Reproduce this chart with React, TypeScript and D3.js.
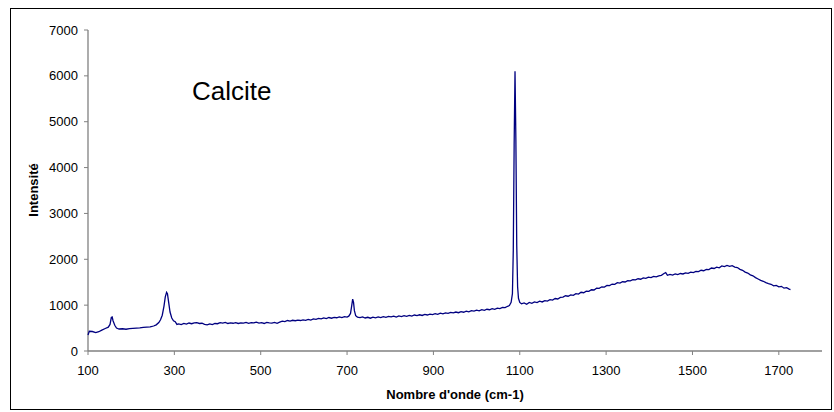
import * as d3 from "d3";

// Spectre Raman de la calcite : [nombre d'onde, intensité]
const spectrum: [number, number][] = [
  [100, 350], [103, 430], [110, 425], [118, 400], [125, 420], [132, 455], [140, 490],
  [147, 520], [151, 580], [154, 730], [156, 740], [158, 660], [162, 560], [166, 500],
  [172, 480], [180, 485], [188, 475], [196, 490], [204, 495], [212, 500], [220, 505],
  [228, 515], [236, 520], [244, 525], [252, 545], [258, 570], [264, 620], [268, 680],
  [272, 780], [276, 980], [279, 1180], [282, 1280], [284, 1250], [287, 1050], [290, 850],
  [294, 720], [298, 660], [302, 640], [306, 580], [310, 590], [316, 575], [322, 600],
  [328, 585], [334, 610], [340, 595], [346, 615], [352, 620], [358, 600], [364, 605],
  [370, 580], [376, 570], [382, 590], [388, 575], [394, 600], [400, 595], [406, 620],
  [412, 610], [418, 625], [424, 600], [430, 615], [436, 605], [442, 620], [448, 600],
  [454, 615], [460, 610], [466, 625], [472, 605], [478, 620], [484, 615], [490, 630],
  [496, 610], [502, 620], [508, 600], [514, 625], [520, 615], [526, 610], [532, 625],
  [538, 605], [544, 630], [550, 650], [556, 640], [562, 665], [568, 650], [574, 670],
  [580, 660], [586, 675], [592, 665], [598, 680], [604, 670], [610, 690], [616, 675],
  [622, 700], [628, 690], [634, 710], [640, 700], [646, 720], [652, 705], [658, 730],
  [664, 715], [670, 735], [676, 725], [682, 745], [688, 730], [694, 750], [700, 740],
  [704, 760], [708, 820], [711, 1000], [713, 1130], [715, 1060], [717, 880], [720, 770],
  [724, 740], [730, 730], [736, 745], [742, 720], [748, 735], [754, 715], [760, 740],
  [766, 725], [772, 745], [778, 730], [784, 750], [790, 735], [796, 755], [802, 745],
  [808, 760], [814, 740], [820, 765], [826, 750], [832, 770], [838, 755], [844, 775],
  [850, 760], [856, 785], [862, 770], [868, 790], [874, 775], [880, 800], [886, 785],
  [892, 805], [898, 795], [904, 815], [910, 800], [916, 825], [922, 810], [928, 830],
  [934, 820], [940, 840], [946, 830], [952, 850], [958, 835], [964, 860], [970, 845],
  [976, 870], [982, 855], [988, 880], [994, 870], [1000, 890], [1006, 875], [1012, 900],
  [1018, 885], [1024, 910], [1030, 900], [1036, 925], [1042, 910], [1048, 935],
  [1054, 925], [1060, 950], [1066, 945], [1072, 975], [1076, 990], [1080, 1060],
  [1083, 1250], [1085, 2200], [1087, 4500], [1089, 6100], [1091, 4600], [1093, 2300],
  [1095, 1400], [1097, 1150], [1100, 1060], [1104, 1030], [1110, 1050], [1116, 1020],
  [1122, 1060], [1128, 1040], [1134, 1070], [1140, 1055], [1146, 1085], [1152, 1070],
  [1158, 1100], [1164, 1090], [1170, 1120], [1176, 1110], [1182, 1145], [1188, 1135],
  [1194, 1170], [1200, 1175], [1206, 1205], [1212, 1195], [1218, 1225], [1224, 1215],
  [1230, 1250], [1236, 1240], [1242, 1280], [1248, 1270], [1254, 1305], [1260, 1300],
  [1266, 1335], [1272, 1330], [1278, 1370], [1284, 1365], [1290, 1400], [1296, 1395],
  [1302, 1430], [1308, 1425], [1314, 1460], [1320, 1455], [1326, 1490], [1332, 1480],
  [1338, 1510], [1344, 1505], [1350, 1535], [1356, 1530], [1362, 1555], [1368, 1550],
  [1374, 1575], [1380, 1565], [1386, 1595], [1392, 1585], [1398, 1610], [1404, 1600],
  [1410, 1625], [1416, 1615], [1422, 1640], [1428, 1650], [1434, 1690], [1438, 1710],
  [1442, 1650], [1448, 1670], [1454, 1655], [1460, 1680], [1466, 1665], [1472, 1690],
  [1478, 1680], [1484, 1705], [1490, 1695], [1496, 1720], [1502, 1710], [1508, 1735],
  [1514, 1730], [1520, 1760], [1526, 1750], [1532, 1780], [1538, 1775], [1544, 1810],
  [1550, 1800], [1556, 1830], [1562, 1815], [1568, 1855], [1574, 1840], [1580, 1865],
  [1586, 1845], [1592, 1860], [1598, 1830], [1604, 1820], [1610, 1780], [1616, 1760],
  [1622, 1720], [1628, 1700], [1634, 1660], [1640, 1640], [1646, 1600], [1652, 1570],
  [1658, 1540], [1664, 1520], [1670, 1490], [1676, 1470], [1682, 1455], [1688, 1420],
  [1694, 1430], [1700, 1400], [1706, 1410], [1712, 1370], [1718, 1380], [1724, 1350],
  [1727, 1340],
];

const xTicks = [100, 300, 500, 700, 900, 1100, 1300, 1500, 1700];
const yTicks = [0, 1000, 2000, 3000, 4000, 5000, 6000, 7000];

const W = 834;
const H = 412;
const font = "Arial, 'Liberation Sans', sans-serif";
const axisColor = "#808080";

export default function App() {
  const x = d3.scaleLinear().domain([100, 1800]).range([88, 822]);
  const y = d3.scaleLinear().domain([0, 7000]).range([351, 30]);

  const line = d3
    .line<[number, number]>()
    .x((d) => x(d[0]))
    .y((d) => y(d[1]));

  return (
    <svg
      width={W}
      height={H}
      style={{ position: "absolute", left: 0, top: 0, background: "#fff" }}
      fontFamily={font}
    >
      {/* cadre */}
      <rect x={10.5} y={8.5} width={821} height={401} fill="none" stroke="#000" strokeWidth={1} />

      {/* axe Y */}
      <line x1={88} x2={88} y1={y(7000)} y2={y(0)} stroke={axisColor} strokeWidth={1.3} />
      {yTicks.map((t) => (
        <g key={"y" + t}>
          <line x1={84} x2={88} y1={y(t)} y2={y(t)} stroke={axisColor} strokeWidth={1} />
          <text x={78} y={y(t)} dy="0.35em" textAnchor="end" fontSize={13} fill="#000">
            {t}
          </text>
        </g>
      ))}

      {/* axe X */}
      <line x1={x(100)} x2={x(1800)} y1={351} y2={351} stroke={axisColor} strokeWidth={1.3} />
      {xTicks.map((t) => (
        <g key={"x" + t}>
          <line x1={x(t)} x2={x(t)} y1={351} y2={355} stroke={axisColor} strokeWidth={1} />
          <text x={x(t)} y={375} textAnchor="middle" fontSize={13} fill="#000">
            {t}
          </text>
        </g>
      ))}

      {/* spectre */}
      <path d={line(spectrum) ?? ""} fill="none" stroke="#000080" strokeWidth={1.3} />

      {/* titres */}
      <text x={455} y={399} textAnchor="middle" fontSize={13} fontWeight="bold" fill="#000">
        Nombre d'onde (cm-1)
      </text>
      <text
        transform="translate(38,190) rotate(-90)"
        textAnchor="middle"
        fontSize={13}
        fontWeight="bold"
        fill="#000"
      >
        Intensité
      </text>
      <text x={192} y={100} fontSize={26} fill="#000">
        Calcite
      </text>
    </svg>
  );
}
